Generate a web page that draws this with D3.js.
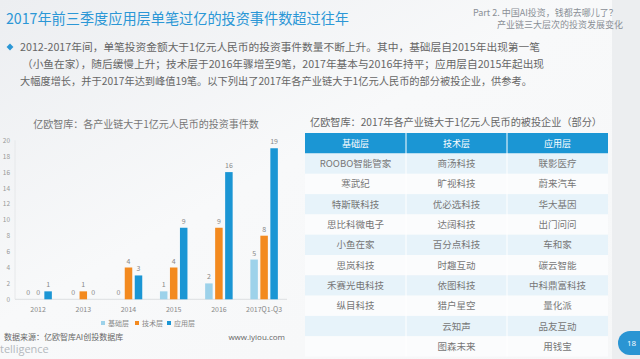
<!DOCTYPE html>
<html>
<head>
<meta charset="utf-8">
<script src="https://cdn.jsdelivr.net/npm/d3@7"></script>
<style>
  html, body { margin: 0; padding: 0; overflow: hidden; }
  svg { display: block; font-family: 'Noto Sans CJK SC', 'Noto Sans', sans-serif; }
</style>
</head>
<body>
<div id="chart"></div>
<script>
// chart data
const years = ['2012', '2013', '2014', '2015', '2016', '2017Q1-Q3'];
const layers = ['基础层', '技术层', '应用层'];
const basicCounts = [0, 0, 0, 1, 2, 5];
const techCounts = [0, 1, 4, 4, 9, 8];
const appCounts = [1, 0, 3, 9, 16, 19];
const yTicks = [0, 2, 4, 6, 8, 10, 12, 14, 16, 18, 20];

// table data
const basicFirms = ['ROOBO智能管家', '寒武纪', '特斯联科技', '思比科微电子', '小鱼在家', '思岚科技', '禾赛光电科技', '纵目科技', '', ''];
const techFirms = ['商汤科技', '旷视科技', '优必选科技', '达阔科技', '百分点科技', '时趣互动', '依图科技', '猎户星空', '云知声', '图森未来'];
const appFirms = ['联影医疗', '蔚来汽车', '华大基因', '出门问问', '车和家', '碳云智能', '中科鼎富科技', '量化派', '品友互动', '用钱宝'];

const bodyLines = [
  '2012-2017年间，单笔投资金额大于1亿元人民币的投资事件数量不断上升。其中，基础层自2015年出现第一笔',
  '（小鱼在家），随后缓慢上升；技术层于2016年骤增至9笔，2017年基本与2016年持平；应用层自2015年起出现',
  '大幅度增长，并于2017年达到峰值19笔。以下列出了2017年各产业链大于1亿元人民币的部分被投企业，供参考。'
];

const width = 640, height = 359;
const colors = { '基础层': '#9dd2ea', '技术层': '#f38a1f', '应用层': '#1b96d4' };
const blue = '#2b97d6';

const svg = d3.select('#chart').append('svg')
  .attr('width', width).attr('height', height);

// background
const defs = svg.append('defs');
const bg = defs.append('linearGradient').attr('id', 'bg')
  .attr('x1', 0).attr('y1', 0).attr('x2', 1).attr('y2', 1);
bg.append('stop').attr('offset', '0%').attr('stop-color', '#eceef1');
bg.append('stop').attr('offset', '45%').attr('stop-color', '#f8f9fa');
bg.append('stop').attr('offset', '100%').attr('stop-color', '#f6f7f8');
svg.append('rect').attr('width', width).attr('height', height).attr('fill', 'url(#bg)');
svg.append('rect').attr('x', 612).attr('y', 0).attr('width', 28).attr('height', height)
  .attr('fill', '#eceef0');

// header
svg.append('text').attr('x', 6).attr('y', 24)
  .attr('fill', blue).attr('font-size', 15)
  .attr('textLength', 343).attr('lengthAdjust', 'spacingAndGlyphs')
  .text('2017年前三季度应用层单笔过亿的投资事件数超过往年');

svg.append('text').attr('x', 473).attr('y', 16)
  .attr('fill', '#8a8f96').attr('font-size', 9)
  .text('Part 2. 中国AI投资，钱都去哪儿了？');
svg.append('text').attr('x', 497).attr('y', 28)
  .attr('fill', '#8a8f96').attr('font-size', 9)
  .text('产业链三大层次的投资发展变化');

// bullet paragraph
svg.append('path').attr('d', d3.symbol(d3.symbolDiamond2, 30)())
  .attr('transform', 'translate(10, 47)').attr('fill', blue);
const lineX = [20, 22, 20];
const lineW = [520, 522, 512];
bodyLines.forEach((t, i) => {
  svg.append('text').attr('x', lineX[i]).attr('y', 51 + i * 17)
    .attr('fill', '#666').attr('font-size', 10.5)
    .attr('textLength', lineW[i]).attr('lengthAdjust', 'spacingAndGlyphs')
    .text(t);
});

// ---- bar chart ----
const chartG = svg.append('g');
chartG.append('text').attr('x', 146).attr('y', 128)
  .attr('text-anchor', 'middle').attr('fill', '#777').attr('font-size', 10)
  .text('亿欧智库：各产业链大于1亿元人民币的投资事件数');

const x0 = d3.scaleBand().domain(years).range([15.5, 286.7]);
const x1 = d3.scaleBand().domain(layers)
  .range([(x0.bandwidth() - 27.5) / 2, (x0.bandwidth() + 27.5) / 2])
  .paddingInner(0.25);
const y = d3.scaleLinear().domain([0, 20]).range([299.3, 140.3]);

chartG.append('line').attr('x1', 15).attr('x2', 15)
  .attr('y1', y(20)).attr('y2', y(0)).attr('stroke', '#e6e8ea');
chartG.append('line').attr('x1', 15).attr('x2', 287)
  .attr('y1', y(0)).attr('y2', y(0)).attr('stroke', '#dcdfe2');

chartG.selectAll('.ytick').data(yTicks).join('text')
  .attr('class', 'ytick')
  .attr('x', 10).attr('y', d => y(d) + 2.5)
  .attr('text-anchor', 'end').attr('fill', '#999').attr('font-size', 6.5)
  .text(d => d);

chartG.selectAll('.xtick').data(years).join('text')
  .attr('class', 'xtick')
  .attr('x', d => x0(d) + x0.bandwidth() / 2).attr('y', 312)
  .attr('text-anchor', 'middle').attr('fill', '#888').attr('font-size', 7)
  .text(d => d);

const series = { '基础层': basicCounts, '技术层': techCounts, '应用层': appCounts };
const barData = [];
years.forEach((yr, i) => {
  layers.forEach(k => barData.push({ year: yr, key: k, value: series[k][i] }));
});

const barG = chartG.append('g');
barG.selectAll('rect').data(barData).join('rect')
  .attr('x', d => x0(d.year) + x1(d.key))
  .attr('y', d => y(d.value))
  .attr('width', x1.bandwidth())
  .attr('height', d => y(0) - y(d.value))
  .attr('fill', d => colors[d.key]);

barG.selectAll('text').data(barData).join('text')
  .attr('x', d => x0(d.year) + x1(d.key) + x1.bandwidth() / 2)
  .attr('y', d => y(d.value) - 4)
  .attr('text-anchor', 'middle').attr('fill', '#888').attr('font-size', 7)
  .text(d => d.value);

// legend
const legendX = [101, 135, 167];
const legend = chartG.selectAll('.legend').data(layers).join('g')
  .attr('class', 'legend')
  .attr('transform', (d, i) => `translate(${legendX[i]}, 325)`);
legend.append('rect').attr('x', 0).attr('y', -4).attr('width', 4).attr('height', 4)
  .attr('fill', d => colors[d]);
legend.append('text').attr('x', 7).attr('y', 0.5)
  .attr('fill', '#888').attr('font-size', 7).text(d => d);

// footer
svg.append('text').attr('x', 4).attr('y', 340)
  .attr('fill', '#666').attr('font-size', 8).text('数据来源：亿欧智库AI创投数据库');
svg.append('text').attr('x', 285).attr('y', 340).attr('text-anchor', 'end')
  .attr('fill', '#666').attr('font-size', 8).attr('font-family', 'Open Sans')
  .text('www.iyiou.com');
svg.append('text').attr('x', 0).attr('y', 353)
  .attr('fill', '#b4b8bd').attr('font-size', 11).attr('font-family', 'Open Sans')
  .text('telligence');

// ---- table ----
const tableG = svg.append('g');
tableG.append('text').attr('x', 310).attr('y', 126)
  .attr('fill', '#666').attr('font-size', 10)
  .attr('textLength', 292).attr('lengthAdjust', 'spacingAndGlyphs')
  .text('亿欧智库：2017年各产业链大于1亿元人民币的被投企业（部分）');

const colX = d3.scaleBand().domain(layers).range([305, 608]);
const rows = d3.range(basicFirms.length).map(i => [basicFirms[i], techFirms[i], appFirms[i]]);
const rowY = d3.scaleBand().domain(d3.range(rows.length)).range([153.5, 356.5]);

tableG.append('rect').attr('x', 305).attr('y', 133).attr('width', 303).attr('height', 20.5)
  .attr('fill', '#1b96d4');
tableG.selectAll('.hdr').data(layers).join('text')
  .attr('class', 'hdr')
  .attr('x', d => colX(d) + colX.bandwidth() / 2).attr('y', 147)
  .attr('text-anchor', 'middle').attr('fill', '#fff').attr('font-size', 9)
  .text(d => d);

tableG.selectAll('.rowbg').data(rows).join('rect')
  .attr('class', 'rowbg')
  .attr('x', 305).attr('y', (d, i) => rowY(i))
  .attr('width', 303).attr('height', rowY.bandwidth())
  .attr('fill', (d, i) => i % 2 === 0 ? '#e7f3fa' : '#fbfcfd');

tableG.selectAll('.sep').data(layers.slice(1)).join('line')
  .attr('class', 'sep')
  .attr('x1', d => colX(d)).attr('x2', d => colX(d))
  .attr('y1', 133).attr('y2', 356.5)
  .attr('stroke', '#fff').attr('stroke-width', 1);

rows.forEach((r, i) => {
  tableG.selectAll(`.cell-${i}`).data(r).join('text')
    .attr('class', `cell-${i}`)
    .attr('x', (d, j) => colX(layers[j]) + colX.bandwidth() / 2)
    .attr('y', rowY(i) + rowY.bandwidth() / 2 + 3.5)
    .attr('text-anchor', 'middle').attr('fill', '#777').attr('font-size', 9.5)
    .text(d => d);
});

// page number
svg.append('rect').attr('x', 618).attr('y', 331).attr('width', 40).attr('height', 24)
  .attr('rx', 12).attr('fill', '#2a95d3');
svg.append('text').attr('x', 627).attr('y', 346)
  .attr('fill', '#fff').attr('font-size', 8).attr('font-family', 'Open Sans')
  .text('18');
</script>
</body>
</html>
